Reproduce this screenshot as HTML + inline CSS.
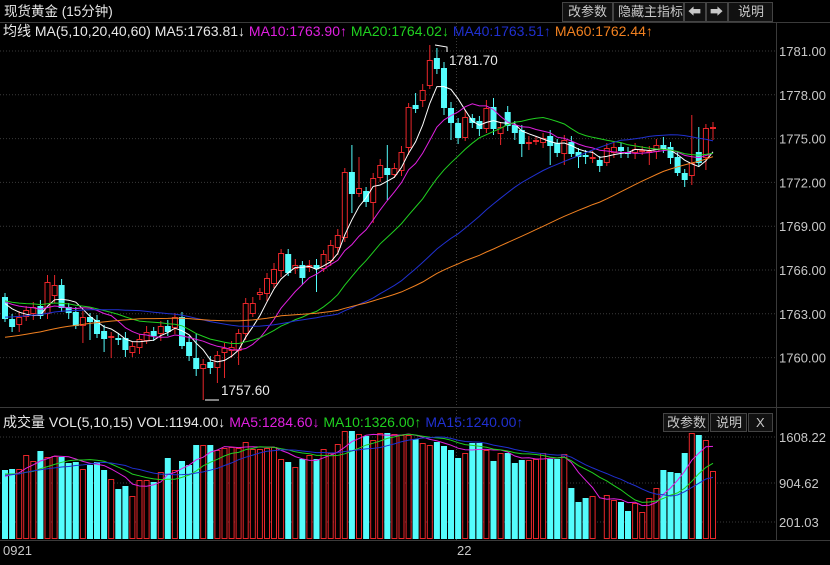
<!DOCTYPE html>
<html><head><meta charset="utf-8">
<style>
html,body{margin:0;padding:0;background:#000;}
body{width:830px;height:560px;overflow:hidden;font-family:"Liberation Sans","Noto Sans CJK SC",sans-serif;}
svg text{font-family:"Liberation Sans","Noto Sans CJK SC",sans-serif;}
</style></head>
<body>
<svg id="s" width="830" height="560" xmlns="http://www.w3.org/2000/svg">
<rect width="830" height="560" fill="#000"/>
<text x="4" y="16" fill="#e8e8e8" font-size="13.5">现货黄金 (15分钟)</text>
<g font-size="13" fill="#c8c8c8">
<rect x="562.5" y="2.5" width="50" height="19" fill="#111" stroke="#444"/><text x="568" y="16">改参数</text>
<rect x="613.5" y="2.5" width="70" height="19" fill="#111" stroke="#444"/><text x="618" y="16">隐藏主指标</text>
<rect x="684.5" y="2.5" width="21" height="19" fill="#111" stroke="#444"/><text x="688" y="16">⬅</text>
<rect x="706.5" y="2.5" width="21" height="19" fill="#111" stroke="#444"/><text x="710" y="16">➡</text>
<rect x="728.5" y="2.5" width="44" height="19" fill="#111" stroke="#444"/><text x="738" y="16">说明</text>
</g>
<line x1="0" y1="22.5" x2="830" y2="22.5" stroke="#3a3a3a"/>
<line x1="0" y1="407.5" x2="830" y2="407.5" stroke="#3a3a3a"/>
<line x1="0" y1="540.5" x2="830" y2="540.5" stroke="#3a3a3a"/>
<line x1="776.5" y1="22" x2="776.5" y2="541" stroke="#3a3a3a"/>
<g id="grid" stroke="#3a3a3a" stroke-dasharray="1,2"></g>
<g id="axis" font-size="13" fill="#c8c8c8"></g>
<text x="3" y="36" font-size="14"><tspan fill="#e8e8e8">均线 MA(5,10,20,40,60) MA5:1763.81↓ </tspan><tspan fill="#e020e0">MA10:1763.90↑ </tspan><tspan fill="#20d020">MA20:1764.02↓ </tspan><tspan fill="#2030d0">MA40:1763.51↑ </tspan><tspan fill="#f08020">MA60:1762.44↑</tspan></text>
<g id="cand"></g>
<g id="mas" fill="none" stroke-width="1"></g>
<g id="vol"></g>
<g id="vmas" fill="none" stroke-width="1"></g>
<path d="M435 45 L447 47 L447 52" stroke="#fff" fill="none"/>
<text x="449" y="65" fill="#e8e8e8" font-size="13.5">1781.70</text>
<path d="M205 400 L219 400" stroke="#fff" fill="none"/>
<text x="221" y="395" fill="#e8e8e8" font-size="13.5">1757.60</text>
<text x="3" y="427" font-size="14"><tspan fill="#e8e8e8">成交量 VOL(5,10,15) VOL:1194.00↓ </tspan><tspan fill="#e020e0">MA5:1284.60↓ </tspan><tspan fill="#20d020">MA10:1326.00↑ </tspan><tspan fill="#2030d0">MA15:1240.00↑</tspan></text>
<g font-size="13" fill="#c8c8c8">
<rect x="663.5" y="413.5" width="45" height="18" fill="#111" stroke="#444"/><text x="667" y="427">改参数</text>
<rect x="710.5" y="413.5" width="36" height="18" fill="#111" stroke="#444"/><text x="716" y="427">说明</text>
<rect x="748.5" y="413.5" width="24" height="18" fill="#111" stroke="#444"/><text x="756" y="427">X</text>
</g>
<text x="3" y="555" fill="#c8c8c8" font-size="13">0921</text>
<text x="457" y="555" fill="#c8c8c8" font-size="13">22</text>
</svg>
<script>
var NS="http://www.w3.org/2000/svg";
function el(p,t,a){var e=document.createElementNS(NS,t);for(var k in a)e.setAttribute(k,a[k]);document.getElementById(p).appendChild(e);return e;}
var ps=[1781,1778,1775,1772,1769,1766,1763,1760];
ps.forEach(function(p,k){var y=51+k*43.8;el("grid","line",{x1:0,x2:776,y1:y.toFixed(1),y2:y.toFixed(1)});
 var t=el("axis","text",{x:779,y:(y+5).toFixed(1)});t.textContent=p.toFixed(2);});
[[437,"1608.22"],[483,"904.62"],[522,"201.03"]].forEach(function(a){el("grid","line",{x1:0,x2:776,y1:a[0],y2:a[0]});var t=el("axis","text",{x:779,y:a[0]+5});t.textContent=a[1];});
el("grid","line",{x1:456.5,x2:456.5,y1:23,y2:540});
var C=[
[297,318,'c'],[319,326,'c'],[317,324,'r'],[310,316,'r'],[307,313,'r'],[306,315,'c'],[282,313,'r',275],[285,295,'r',275],[285,307,'c'],[307,312,'c'],
[312,325,'c'],[317,325,'r',0,343],[317,321,'c',0,340],[320,333,'c'],[331,338,'c',0,352],[336,337,'r',0,358],[338,339,'c'],[338,349,'c'],[346,352,'r'],[339,347,'r'],
[332,340,'r'],[331,335,'c'],[326,333,'r'],[326,331,'c'],[317,327,'r'],[317,345,'c',312],[342,355,'c'],[358,368,'c',333],[364,368,'r',0,400],[362,367,'c'],
[355,367,'r',0,383],[348,352,'r',0,378],[347,350,'r'],[333,350,'r',0,365],[303,333,'r'],[303,313,'r'],[292,294,'r'],[278,293,'r'],[269,283,'r'],[253,270,'r'],
[254,272,'c'],[265,268,'r'],[265,277,'c'],[265,267,'r'],[265,268,'c',0,292],[254,268,'r'],[245,260,'r'],[235,247,'r'],[172,237,'r'],[172,193,'c',145,213],
[188,193,'r',157],[191,201,'c'],[178,202,'r',0,223],[165,177,'r'],[168,174,'c',145,200],[168,174,'r'],[152,170,'r'],[107,147,'r'],[105,108,'c',93],[90,100,'r'],
[60,85,'r',45],[58,68,'c',48],[68,107,'c'],[108,122,'c',102,140],[123,137,'c'],[117,137,'r',110],[118,122,'c'],[121,128,'c'],[108,128,'r',100],[107,128,'c',98],
[127,133,'r',0,145],[112,125,'c'],[125,132,'c'],[130,143,'c',0,157],[142,143,'r'],[140,141,'r'],[138,142,'r'],[136,145,'c',0,165],[143,152,'c'],[140,153,'r',0,165],
[142,153,'c'],[152,156,'c',0,168],[155,156,'c'],[157,158,'r'],[160,165,'c'],[148,162,'r'],[147,152,'r'],[147,150,'c'],[152,153,'c'],[149,152,'r'],
[150,151,'r'],[151,152,'r',0,165],[145,151,'r'],[145,148,'c',137],[147,157,'c'],[157,172,'c'],[173,179,'c',0,187],[163,175,'r',115,185],[152,162,'c',127],[128,157,'r',0,170],
[127,128,'r',122,140]];
var V=[470,469,469,455,461,451,457,456,457,463,462,469,465,462,470,479,489,486,496,480,480,482,472,458,470,461,465,445,445,445,450,448,447,448,442,449,449,448,447,459,462,467,459,455,459,449,453,444,431,431,434,436,440,433,433,434,435,435,439,443,445,442,446,450,458,453,443,443,450,461,453,453,463,460,460,459,453,459,459,454,488,502,498,496,537,495,500,502,511,503,512,498,488,470,472,473,453,433,435,440,471];
var RED="#e8262a",CY="#54fcfc";
function X(i){return 5+i*7.08;}
var closes=[];
C.forEach(function(c,i){
 var x=X(i),col=c[2]=='r'?RED:CY;
 var wt=c[3]||c[0]-4-(i%3),wb=c[4]||c[1]+4+((i*7)%5);
 el("cand","line",{x1:x.toFixed(1),x2:x.toFixed(1),y1:wt,y2:c[0],stroke:col});
 el("cand","line",{x1:x.toFixed(1),x2:x.toFixed(1),y1:c[1],y2:wb,stroke:col});
 var h=Math.max(1,c[1]-c[0]);
 if(c[2]=='r')el("cand","rect",{x:(x-2.5).toFixed(1),y:c[0]+0.5,width:5,height:h,fill:"#000",stroke:col});
 else el("cand","rect",{x:(x-3).toFixed(1),y:c[0],width:6,height:h+1,fill:col});
 closes.push(c[2]=='r'?c[0]:c[1]);
 var vy=V[i];
 if(vy<537){ if(c[2]=='r')el("vol","rect",{x:(x-2.5).toFixed(1),y:vy+0.5,width:5,height:538-vy,fill:"#000",stroke:col});
 else el("vol","rect",{x:(x-3).toFixed(1),y:vy,width:6,height:539-vy,fill:col});}
});
var hist=[];for(var k=0;k<60;k++)hist.push(k<20?380:(k<40?335:300));
var all=hist.concat(closes);
function ma(arr,n,off){var pts=[];for(var i=0;i<101;i++){var s=0;for(var j=0;j<n;j++)s+=arr[off+i-j];pts.push(X(i).toFixed(1)+","+(s/n).toFixed(1));}return pts.join(" ");}
[[5,"#ffffff"],[10,"#e020e0"],[20,"#20d020"],[40,"#2030d0"],[60,"#f08020"]].forEach(function(m){el("mas","polyline",{points:ma(all,m[0],60),stroke:m[1]});});
var vh=[];for(k=0;k<15;k++)vh.push(k<5?480:(k<10?470:478));
var vall=vh.concat(V.map(function(v){return v>=537?505:v;}));
[[5,"#e020e0"],[10,"#20d020"],[15,"#2030d0"]].forEach(function(m){el("vmas","polyline",{points:ma(vall,m[0],15),stroke:m[1]});});
</script>
</body></html>
